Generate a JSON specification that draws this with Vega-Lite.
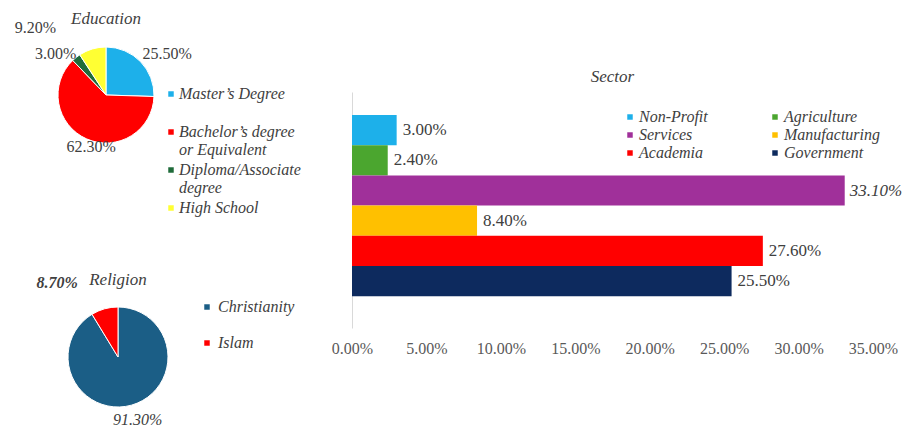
{
  "$schema": "https://vega.github.io/schema/vega-lite/v6.json",
  "padding": 0,
  "background": "white",
  "config": {
    "view": {"stroke": null},
    "font": "serif",
    "text": {"font": "serif"},
    "axis": {"labelFont": "serif"},
    "title": {"font": "serif", "fontStyle": "italic", "fontWeight": "normal", "fontSize": 17, "color": "#404040", "anchor": "middle", "frame": "group"},
    "legend": {"labelFont": "serif", "labelFontStyle": "italic", "labelFontSize": 16, "labelColor": "#404040", "symbolType": "square", "symbolSize": 30, "symbolStrokeWidth": 0, "title": null, "orient": "none", "padding": 0}
  },
  "datasets": {
    "edu": [
      {"cat": "Master’s Degree", "v": 0.255, "i": 1},
      {"cat": "Bachelor’s degree or Equivalent", "v": 0.623, "i": 2},
      {"cat": "Diploma/Associate degree", "v": 0.03, "i": 3},
      {"cat": "High School", "v": 0.092, "i": 4}
    ],
    "rel": [
      {"cat": "Christianity", "v": 0.913, "i": 1},
      {"cat": "Islam", "v": 0.087, "i": 2}
    ],
    "sector": [
      {"s": "Non-Profit", "v": 0.03},
      {"s": "Agriculture", "v": 0.024},
      {"s": "Services", "v": 0.331},
      {"s": "Manufacturing", "v": 0.084},
      {"s": "Academia", "v": 0.276},
      {"s": "Government", "v": 0.255}
    ]
  },
  "hconcat": [
    {
      "vconcat": [
        {
          "width": 212,
          "height": 190,
          "title": {"text": "Education", "offset": -28, "frame": "group"},
          "data": {"name": "edu"},
          "encoding": {
            "theta": {"field": "v", "type": "quantitative", "stack": true},
            "order": {"field": "i", "type": "quantitative"}
          },
          "layer": [
            {
              "mark": {"type": "arc", "outerRadius": 48, "stroke": "white", "strokeWidth": 1},
              "encoding": {
                "color": {
                  "field": "cat", "type": "nominal",
                  "scale": {"domain": ["Master’s Degree", "Bachelor’s degree or Equivalent", "Diploma/Associate degree", "High School"], "range": ["#1DB0EA", "#FF0000", "#1F6B3A", "#FFFF33"]},
                  "legend": {"legendX": 163, "legendY": 86, "labelOffset": 0, "rowPadding": 4,
                    "labelExpr": "datum.label === 'Bachelor’s degree or Equivalent' ? ['Bachelor’s degree', 'or Equivalent'] : datum.label === 'Diploma/Associate degree' ? ['Diploma/Associate', 'degree'] : [datum.label, ' ']"}
                }
              }
            },
            {
              "mark": {"type": "text", "radius": 74, "dx": 8, "dy": 10, "fontSize": 16, "color": "#404040"},
              "encoding": {"text": {"condition": {"test": "datum.i === 1", "field": "v", "type": "quantitative", "format": ".2%"}, "value": ""}}
            },
            {
              "mark": {"type": "text", "radius": 54, "dx": 7, "dy": 3, "fontSize": 16, "color": "#404040"},
              "encoding": {"text": {"condition": {"test": "datum.i === 2", "field": "v", "type": "quantitative", "format": ".2%"}, "value": ""}}
            },
            {
              "mark": {"type": "text", "radius": 68, "dx": -8, "dy": 12, "fontSize": 16, "color": "#404040"},
              "encoding": {"text": {"condition": {"test": "datum.i === 3", "field": "v", "type": "quantitative", "format": ".2%"}, "value": ""}}
            },
            {
              "mark": {"type": "text", "radius": 100, "dx": -42, "dy": 29, "fontSize": 16, "color": "#404040"},
              "encoding": {"text": {"condition": {"test": "datum.i === 4", "field": "v", "type": "quantitative", "format": ".2%"}, "value": ""}}
            }
          ]
        },
        {
          "width": 236,
          "height": 100,
          "title": {"text": "Religion", "offset": -14, "frame": "group"},
          "data": {"name": "rel"},
          "encoding": {
            "theta": {"field": "v", "type": "quantitative", "stack": true},
            "order": {"field": "i", "type": "quantitative"}
          },
          "layer": [
            {
              "mark": {"type": "arc", "outerRadius": 50, "stroke": "white", "strokeWidth": 1},
              "encoding": {
                "color": {
                  "field": "cat", "type": "nominal",
                  "scale": {"domain": ["Christianity", "Islam"], "range": ["#1B5E86", "#FF0000"]},
                  "legend": {"legendX": 199, "legendY": -8, "labelOffset": 3, "rowPadding": 20}
                }
              }
            },
            {
              "mark": {"type": "text", "radius": 65, "dx": 2, "dy": 0, "fontSize": 16, "fontStyle": "italic", "color": "#404040"},
              "encoding": {"text": {"condition": {"test": "datum.i === 1", "field": "v", "type": "quantitative", "format": ".2%"}, "value": ""}}
            },
            {
              "mark": {"type": "text", "radius": 96, "dx": -35, "dy": 18, "fontSize": 16, "fontStyle": "italic", "fontWeight": "bold", "color": "#404040"},
              "encoding": {"text": {"condition": {"test": "datum.i === 2", "field": "v", "type": "quantitative", "format": ".2%"}, "value": ""}}
            }
          ]
        }
      ],
      "spacing": 117,
      "bounds": "flush",
      "resolve": {"scale": {"color": "independent", "theta": "independent"}}
    },
    {
      "width": 521,
      "height": 328,
      "title": {"text": "Sector", "offset": -86, "frame": "group"},
      "data": {"name": "sector"},
      "encoding": {
        "y": {
          "field": "s", "type": "nominal",
          "sort": ["Non-Profit", "Agriculture", "Services", "Manufacturing", "Academia", "Government"],
          "scale": {"range": [92, 328], "paddingInner": 0, "paddingOuter": 0.91, "align": 0.42},
          "axis": {"title": null, "labels": false, "ticks": false, "domainColor": "#D9D9D9", "grid": false}
        },
        "x": {
          "field": "v", "type": "quantitative",
          "scale": {"domain": [0, 0.35]},
          "axis": {"title": null, "values": [0, 0.05, 0.1, 0.15, 0.2, 0.25, 0.3, 0.35], "format": ".2%", "grid": false, "domain": false, "ticks": false, "labelOverlap": false, "labelBound": false, "labelFlush": false, "labelFont": "serif", "labelFontSize": 16, "labelColor": "#595959", "labelPadding": 12}
        }
      },
      "layer": [
        {
          "mark": {"type": "bar"},
          "encoding": {
            "color": {
              "field": "s", "type": "nominal",
              "scale": {"domain": ["Non-Profit", "Agriculture", "Services", "Manufacturing", "Academia", "Government"], "range": ["#1DB0EA", "#4BA62F", "#A0309A", "#FFC000", "#FF0000", "#0D2A5E"]},
              "legend": {"legendX": 270, "legendY": 109, "columns": 2, "direction": "horizontal", "columnPadding": 59, "rowPadding": 2, "labelOffset": 1}
            }
          }
        },
        {
          "transform": [{"filter": "datum.s !== 'Services'"}],
          "mark": {"type": "text", "align": "left", "dx": 6, "fontSize": 17, "color": "#404040"},
          "encoding": {"text": {"field": "v", "type": "quantitative", "format": ".2%"}}
        },
        {
          "transform": [{"filter": "datum.s === 'Services'"}],
          "mark": {"type": "text", "align": "left", "dx": 5, "fontSize": 17, "fontStyle": "italic", "color": "#404040"},
          "encoding": {"text": {"field": "v", "type": "quantitative", "format": ".2%"}}
        }
      ]
    }
  ],
  "spacing": 352,
  "bounds": "flush",
  "resolve": {"scale": {"color": "independent"}}
}
